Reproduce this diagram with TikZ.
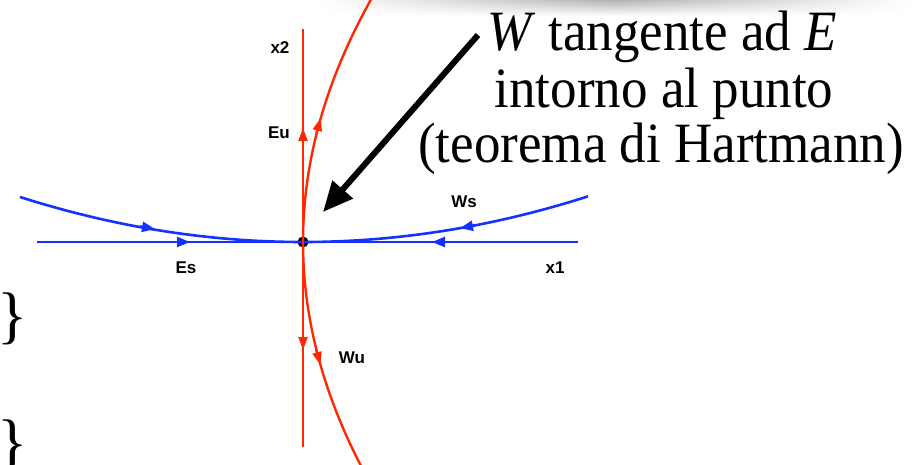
\documentclass[tikz,border=0pt]{standalone}
\usepackage{fontspec}
\setmainfont{Liberation Serif}
\newfontfamily\bigserif[FakeStretch=0.93]{Liberation Serif}
\newfontfamily\lblfont{Liberation Sans}
\usetikzlibrary{arrows.meta,fadings}
\definecolor{myred}{RGB}{255,40,0}
\definecolor{myblue}{RGB}{20,50,255}
\tikzfading[name=sidefade, left color=transparent!100, right color=transparent!100, middle color=transparent!0]
\tikzset{
  redline/.style={draw=myred, line width=2.4pt},
  blueline/.style={draw=myblue, line width=2.6pt},
  redarr/.style={myred, line width=2.4pt, -{Triangle[length=13pt,width=9pt]}},
  bluearr/.style={myblue, line width=2.6pt, -{Triangle[length=13pt,width=10pt]}},
  lbl/.style={font=\lblfont\bfseries\fontsize{17}{19}\selectfont, anchor=base, inner sep=0pt},
  bigtext/.style={font=\bigserif\fontsize{57}{62}\selectfont, anchor=base, inner sep=0pt},
  brace/.style={font=\fontsize{63}{68}\selectfont, anchor=base west, inner sep=0pt}
}
\begin{document}
\begin{tikzpicture}[x=1pt,y=-1pt]
\useasboundingbox (0,0) rectangle (914,464);
% shadow
\shade[top color=black!30, bottom color=white, path fading=sidefade] (320,0) rectangle (910,16);
% origin dot
\fill[black] (303,242) circle (5.5);
% axes
\coordinate (o) at (303,242);
\draw[blueline] (37,242) -- (578,242);
\draw[redline] (303,29) -- (303,447);
% Ws curve
\draw[blueline] plot[domain=20:588, samples=80, smooth] (\x, {242-45*((\x-303)/283)^2});
% Wu curve
\draw[redline] plot[domain=-260:240, samples=80, smooth] ({303+78.21*(\x/260)^2}, {242+\x});
% arrows on Es
\draw[bluearr] (170,242) -- (190,242);
\draw[bluearr] (452,242) -- (432,242);
% arrows on Ws
\draw[bluearr] (140,226.5) -- (155,229);
\draw[bluearr] (475,225.4) -- (460,228.1);
% arrows on Eu
\draw[redarr] (303,143) -- (303,128);
\draw[redarr] (303,335) -- (303,350);
% arrows on Wu
\draw[redarr] (316.6,133) -- (320.8,118);
\draw[redarr] (316.3,350) -- (320.5,365);
% labels
\node[lbl] (lx2) at (280,53) {x2};
\node[lbl] (leu) at (279,138) {Eu};
\node[lbl] (les) at (186,273) {Es};
\node[lbl] (lx1) at (555,273) {x1};
\node[lbl] (lws) at (464,207) {Ws};
\node[lbl] (lwu) at (352,363) {Wu};
% text
\node[bigtext] (t1) at (662,50) {\textit{W} tangente ad \textit{E}};
\node[bigtext] (t2) at (664,107) {intorno al punto};
\node[bigtext] (t3) at (661,162) {(teorema di Hartmann)};
% big arrow
\coordinate (tip) at (323,212);
\draw[line width=6pt, -{Triangle[length=30pt,width=26pt]}] (478,35) -- (tip);
% braces
\node[brace] (b1) at (-3,336) {\}};
\node[brace] (b2) at (-3,463) {\}};
\end{tikzpicture}
\end{document}
